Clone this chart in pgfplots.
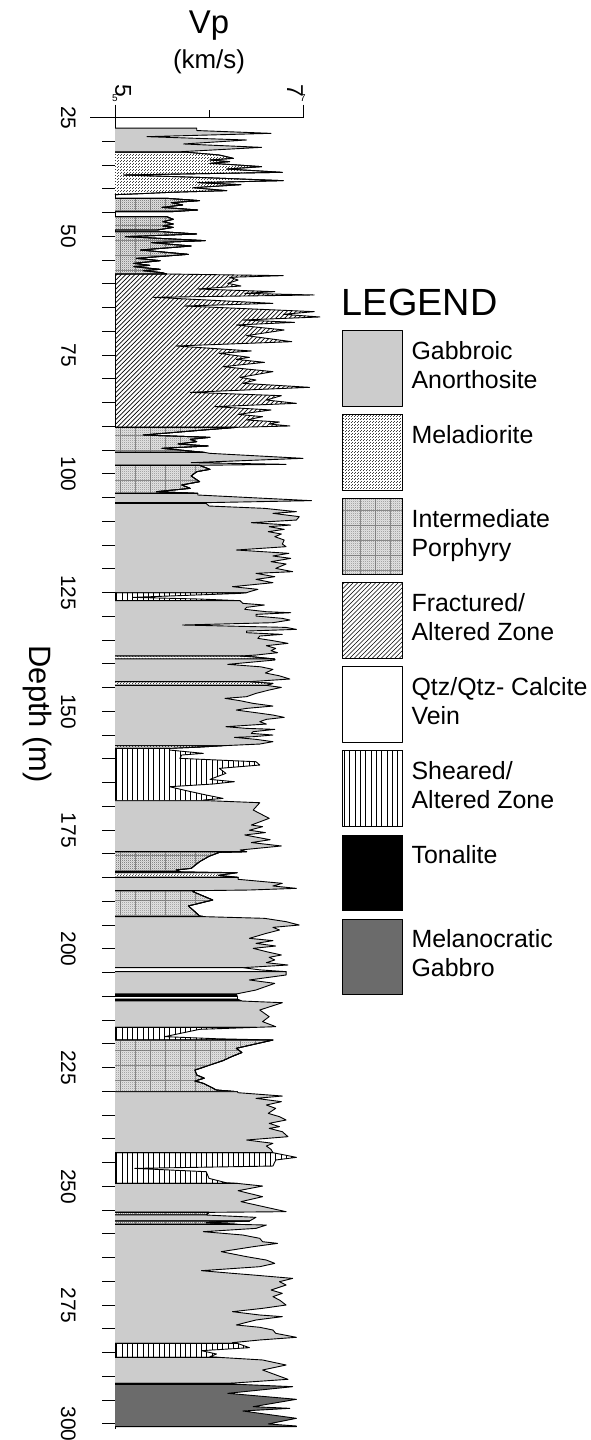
\documentclass[border=0pt]{standalone}
\usepackage{fontspec}
\setmainfont{Liberation Sans}
\usepackage{pgfplots}
\pgfplotsset{compat=1.18}
\usetikzlibrary{patterns}

\pgfdeclarepatternformonly{fracl}{\pgfqpoint{-1bp}{-1bp}}{\pgfqpoint{5.5bp}{5.5bp}}{\pgfqpoint{4.5bp}{4.5bp}}{%
  \pgfsetlinewidth{0.7bp}\pgfpathmoveto{\pgfqpoint{0bp}{0bp}}\pgfpathlineto{\pgfqpoint{4.6bp}{4.6bp}}\pgfusepath{stroke}}
\pgfdeclarepatternformonly{vlines}{\pgfqpoint{-1bp}{-1bp}}{\pgfqpoint{6.3bp}{6.3bp}}{\pgfqpoint{5.3bp}{5.3bp}}{%
  \pgfsetlinewidth{0.8bp}\pgfpathmoveto{\pgfqpoint{0bp}{0bp}}\pgfpathlineto{\pgfqpoint{0bp}{5.4bp}}\pgfusepath{stroke}}
\pgfdeclarepatternformonly{pgrid}{\pgfqpoint{-1bp}{-1bp}}{\pgfqpoint{16bp}{16bp}}{\pgfqpoint{15bp}{15bp}}{%
  \pgfsetlinewidth{0.5bp}\pgfpathmoveto{\pgfqpoint{0bp}{0bp}}\pgfpathlineto{\pgfqpoint{15.1bp}{0bp}}%
  \pgfpathmoveto{\pgfqpoint{0bp}{0bp}}\pgfpathlineto{\pgfqpoint{0bp}{15.1bp}}\pgfusepath{stroke}}
\pgfdeclarepatternformonly{mdots}{\pgfqpoint{0bp}{0bp}}{\pgfqpoint{3bp}{3bp}}{\pgfqpoint{3bp}{3bp}}{%
  \pgfpathrectangle{\pgfqpoint{0bp}{0bp}}{\pgfqpoint{1bp}{1bp}}%
  \pgfpathrectangle{\pgfqpoint{1.5bp}{1.5bp}}{\pgfqpoint{1bp}{1bp}}\pgfusepath{fill}}
\pgfdeclarepatternformonly{pdots}{\pgfqpoint{0bp}{0bp}}{\pgfqpoint{2.2bp}{2.2bp}}{\pgfqpoint{2.2bp}{2.2bp}}{%
  \pgfpathrectangle{\pgfqpoint{0bp}{0bp}}{\pgfqpoint{1bp}{1bp}}%
  \pgfpathrectangle{\pgfqpoint{1.1bp}{1.1bp}}{\pgfqpoint{0.9bp}{0.9bp}}\pgfusepath{fill}}

\pgfplotsset{
  litho/.style={draw=black, line width=0.9bp, line join=round},
  gab/.style={litho, fill=black!20},
  mel/.style={litho, preaction={fill=white}, pattern=mdots, pattern color=black!75},
  por/.style={litho, preaction={fill=black!10}, preaction={pattern=pgrid, pattern color=black!45}, pattern=pdots, pattern color=black!60},
  fra/.style={litho, pattern=fracl, pattern color=black},
  qtz/.style={litho, fill=white},
  she/.style={litho, pattern=vlines, pattern color=black},
  ton/.style={litho, fill=black},
  mgb/.style={litho, fill=black!58},
}

\begin{document}
\begin{tikzpicture}
\useasboundingbox (0,0) rectangle (591bp,1440bp);
\begin{axis}[
  at={(115bp,11.3bp)}, anchor=south west,
  scale only axis, width=188bp, height=1311bp,
  xmin=5, xmax=7, ymin=25, ymax=301, y dir=reverse,
  axis x line*=top, axis y line*=left,
  axis line style={line width=1bp, black},
  clip=false,
  xtick={5,7}, xticklabel={}, minor xtick={6},
  ytick={25,30,...,300},
  yticklabels={25,,,,,50,,,,,75,,,,,100,,,,,125,,,,,150,,,,,175,,,,,200,,,,,225,,,,,250,,,,,275,,,,,300},
  tick align=outside, major tick length=13bp, minor tick length=7.7bp,
  tick style={line width=1bp, black},
  /pgf/number format/assume math mode=true,
  yticklabel style={rotate=-90, anchor=north, inner sep=0pt, font=\fontsize{21}{25}\selectfont},
  yticklabel shift=26bp,
  ylabel={Depth (m)},
  ylabel style={at={(axis description cs:-0.41,0.545)}, anchor=center, rotate=180, inner sep=0pt, font=\fontsize{31}{36}\selectfont},
  legend image code/.code={\draw[#1] (0bp,-41.9bp) rectangle (60.6bp,33.8bp);},
  legend cell align=left,
  legend style={draw=none, fill=none, inner sep=0pt, outer sep=0pt,
    at={(axis description cs:1.2059,0.8381)}, anchor=north west,
    row sep=7.5bp, column sep=8.4bp, font=\fontsize{25}{29.3}\selectfont,
    cells={align=left}, nodes={inner sep=0pt}},
]
\addplot[gab, forget plot] coordinates {(5,27.2) (5.87,27.2) (5.87,27.7) (6.66,28.29) (5.34,28.99) (6.40,29.69) (5.73,30.53) (6.56,31.24) (5.71,32.15) (5.75,32.25) (5,32.25)};
\addplot[mel, forget plot] coordinates {(5,32.25) (5.75,32.25) (6.11,32.85) (6.26,33.55) (6.01,33.9) (6.22,34.25) (6.01,34.6) (6.19,34.8) (6.56,35.3) (6.19,35.8) (6.78,36.5) (5.09,37.06) (5.87,37.55) (6.79,38.25) (5.88,38.67) (6.34,39.1) (5.83,39.73) (6.19,40.36) (5.6,40.7) (5.15,41.1) (5,41.2)};
\addplot[por, forget plot] coordinates {(5,41.97) (5.55,41.97) (5.90,42.46) (5.6,42.88) (5.72,43.37) (5.5,43.87) (5.88,44.43) (5.6,44.78) (5,44.78)};
\addplot[por, forget plot] coordinates {(5,45.83) (5.55,45.83) (5.62,46.39) (5.51,46.88) (5.62,47.38) (5.51,47.8) (5.62,48.08) (5.45,48.64) (5,48.64)};
\addplot[por, forget plot] coordinates {(5,49.0) (5.5,49.0) (5.87,49.48) (5.11,50.04) (5.96,50.88) (5.39,51.3) (5.81,52.01) (5.27,52.85) (5.78,53.76) (5.23,54.6) (5.48,55.1) (5.2,55.66) (5.37,56.08) (5.2,56.36) (5.48,56.92) (5.3,57.2) (5.5,57.62) (5.55,57.9) (5,57.9)};
\addplot[fra, forget plot] coordinates {(5,57.9) (5.55,57.9) (6.79,58.25) (6.22,58.6) (6.31,59.17) (6.2,59.87) (6.34,60.43) (5.88,61.06) (6.70,61.62) (6.38,61.97) (7.12,62.32) (5.41,62.81) (6.68,64.08) (5.74,64.64) (7.12,65.83) (6.79,66.39) (7.18,66.95) (6.36,67.59) (6.91,68.08) (6.29,68.64) (6.80,69.69) (6.40,70.88) (6.88,72.15) (5.65,73.06) (6.45,74.11) (6.11,74.6) (6.43,75.45) (6.29,75.87) (6.59,76.5) (6.15,77.41) (6.68,78.46) (6.33,79.66) (6.50,80.22) (6.36,80.92) (7.07,81.76) (5.80,82.81) (6.77,83.52) (6.61,84.43) (6.93,85.13) (6.06,85.83) (6.66,86.53) (6.31,87.45) (6.57,87.94) (6.40,88.64) (6.75,89.06) (6.64,89.48) (6.86,89.9) (6.3,90.18) (5,90.18)};
\addplot[por, forget plot] coordinates {(5,90.18) (6.3,90.18) (5.94,90.75) (5.30,91.8) (6.01,92.29) (5.80,92.71) (5.87,93.2) (5.67,93.69) (5.99,94.11) (5.5,94.6) (5.87,95.31) (5.95,95.45) (5,95.45)};
\addplot[gab, forget plot] coordinates {(5,95.45) (5.95,95.45) (6.01,95.66) (7.0,96.71) (5.81,97.62) (6.82,97.97) (5.9,98.18) (5,98.18)};
\addplot[por, forget plot] coordinates {(5,98.18) (5.9,98.18) (6.01,99.03) (5.87,99.52) (5.81,100.43) (5.9,101.62) (5.71,102.32) (5.8,103.03) (5.44,103.73) (5.88,104.08) (5,104.08)};
\addplot[gab, forget plot] coordinates {(5,104.08) (5.88,104.08) (5.88,104.43) (7.09,105.62) (5.97,106.04) (5,106.04)};
\addplot[ton, forget plot] coordinates {(5,106.04) (5.97,106.04) (5.97,106.2) (5,106.2)};
\addplot[gab, forget plot] coordinates {(5,106.2) (5.97,106.2) (6.0,106.75) (6.59,107.24) (6.93,107.94) (6.68,108.29) (6.96,108.99) (6.93,109.7) (6.45,110.26) (6.87,110.75) (6.64,111.1) (6.80,111.66) (6.63,112.15) (6.77,112.64) (6.70,113.2) (6.80,113.91) (6.78,114.75) (6.82,115.31) (6.29,116.01) (6.85,116.71) (6.68,117.27) (6.87,117.77) (6.66,118.47) (6.82,118.96) (6.71,119.87) (6.89,120.57) (6.50,120.92) (6.70,121.63) (6.50,122.19) (6.68,122.89) (6.25,123.73) (6.52,124.29) (6.43,124.79) (6.40,125.0) (5,125.0)};
\addplot[she, forget plot] coordinates {(5,125.0) (6.40,125.0) (6.33,125.14) (5.19,125.98) (5.90,126.33) (6.33,126.68) (5,126.68)};
\addplot[gab, forget plot] coordinates {(5,126.68) (6.33,126.68) (6.36,127.24) (6.59,127.59) (6.40,128.08) (6.38,128.5) (6.61,129.0) (6.87,129.21) (6.50,129.56) (6.50,129.91) (6.78,130.4) (6.86,130.75) (6.68,131.31) (5.72,131.8) (6.82,132.3) (6.93,132.72) (6.40,133.07) (6.40,133.42) (6.78,133.77) (6.54,134.12) (6.52,134.61) (6.68,135.1) (6.84,135.66) (6.61,136.15) (6.71,136.72) (6.66,137.21) (6.73,137.63) (6.5,138.12) (6.33,138.33) (5,138.33)};
\addplot[mel, forget plot] coordinates {(5,138.33) (6.33,138.33) (6.47,138.5) (6.70,138.96) (5,138.96)};
\addplot[gab, forget plot] coordinates {(5,138.96) (6.70,138.96) (6.70,139.17) (6.20,140.08) (6.55,140.6) (6.68,141.14) (6.6,141.9) (6.75,142.5) (6.86,143.17) (6.43,143.73) (5,143.73)};
\addplot[mel, forget plot] coordinates {(5,143.73) (6.43,143.73) (6.68,144.1) (6.61,144.51) (5,144.51)};
\addplot[gab, forget plot] coordinates {(5,144.51) (6.61,144.51) (6.77,144.93) (6.64,145.49) (6.50,146.19) (6.40,146.89) (6.17,147.24) (6.33,147.73) (6.47,148.3) (6.68,148.86) (6.40,149.35) (6.29,149.7) (6.50,150.26) (6.68,150.75) (6.80,151.24) (6.61,151.66) (6.54,152.15) (6.61,152.65) (6.18,153.21) (6.40,153.56) (6.70,153.77) (6.47,154.26) (6.45,154.61) (6.68,154.96) (6.47,155.31) (6.27,155.45) (6.50,155.87) (6.68,156.36) (6.54,156.86) (6.15,157.21) (5,157.21)};
\addplot[mel, forget plot] coordinates {(5,157.21) (6.15,157.21) (5.9,157.5) (5.58,157.77) (5,157.77)};
\addplot[she, forget plot] coordinates {(5,157.77) (5.58,157.77) (5.58,158.12) (5.94,158.82) (5.71,159.17) (5.69,159.87) (6.50,160.58) (6.54,161.28) (6.11,161.98) (6.18,163.03) (6.01,164.3) (6.27,164.79) (6.04,165.28) (5.58,165.84) (5.76,166.68) (5.97,167.59) (6.15,168.3) (5.94,168.65) (6.0,168.79) (5,168.79)};
\addplot[gab, forget plot] coordinates {(5,168.79) (6.0,168.79) (6.54,169.21) (6.47,170.75) (6.64,172.5) (6.45,173.91) (6.57,174.25) (6.43,175.0) (6.6,175.5) (6.38,176.0) (6.65,177.0) (6.45,177.6) (6.77,178.32) (6.33,179.17) (6.40,179.52) (5,179.52)};
\addplot[por, forget plot] coordinates {(5,179.52) (6.40,179.52) (6.11,179.66) (6.0,180.5) (5.9,181.62) (5.81,183.03) (5.65,183.38) (5.69,183.73) (5,183.73)};
\addplot[ton, forget plot] coordinates {(5,183.73) (5.69,183.73) (6.3,183.95) (5,183.95)};
\addplot[mel, forget plot] coordinates {(5,183.95) (6.3,183.95) (6.1,184.5) (6.31,184.92) (5,184.92)};
\addplot[gab, forget plot] coordinates {(5,184.92) (6.31,184.92) (6.31,185.34) (6.78,186.18) (6.68,186.74) (6.93,187.24) (6.43,187.59) (5.85,187.73) (5,187.73)};
\addplot[por, forget plot] coordinates {(5,187.73) (5.85,187.73) (5.83,187.94) (6.04,189.69) (5.78,190.95) (5.83,191.8) (5.9,193.06) (5.95,193.2) (5,193.2)};
\addplot[gab, forget plot] coordinates {(5,193.2) (5.95,193.2) (6.59,193.55) (6.82,194.25) (6.96,194.96) (6.68,195.45) (6.75,196.01) (6.61,196.71) (6.43,197.76) (6.68,198.25) (6.50,198.82) (6.71,199.38) (6.47,199.87) (6.61,200.57) (6.77,201.27) (6.64,201.76) (6.70,202.32) (6.61,202.89) (6.84,203.38) (6.36,203.94) (5,203.94)};
\addplot[qtz, forget plot] coordinates {(5,203.94) (6.36,203.94) (6.54,204.4) (6.82,204.78) (5,204.78)};
\addplot[gab, forget plot] coordinates {(5,204.78) (6.82,204.78) (6.82,205.48) (6.43,206.53) (6.70,207.24) (6.50,208.64) (6.29,209.48) (5,209.48)};
\addplot[ton, forget plot] coordinates {(5,209.48) (6.29,209.48) (6.3,209.9) (5,209.9)};
\addplot[qtz, forget plot] coordinates {(5,209.9) (6.3,209.9) (6.3,210.53) (5,210.53)};
\addplot[ton, forget plot] coordinates {(5,210.53) (6.3,210.53) (6.35,210.96) (5,210.96)};
\addplot[gab, forget plot] coordinates {(5,210.96) (6.35,210.96) (6.78,211.31) (6.54,212.85) (6.64,214.25) (6.57,215.3) (6.71,216.36) (6.5,216.5) (5,216.5)};
\addplot[she, forget plot] coordinates {(5,216.5) (6.5,216.5) (5.9,216.92) (5.53,218.46) (6.08,218.9) (6.68,219.17) (5,219.17)};
\addplot[por, forget plot] coordinates {(5,219.17) (6.68,219.17) (6.29,220.92) (6.35,221.8) (6.24,222.67) (6.15,223.5) (6.0,224.5) (5.85,225.5) (5.87,226.54) (5.95,227.2) (5.85,227.8) (5.94,228.29) (6.08,229.7) (6.3,230.05) (5,230.05)};
\addplot[gab, forget plot] coordinates {(5,230.05) (6.3,230.05) (6.31,230.26) (6.78,230.96) (6.50,231.45) (6.77,232.15) (6.61,232.85) (6.71,233.56) (6.63,234.61) (6.75,235.31) (6.82,236.01) (6.64,236.71) (6.75,237.42) (6.64,237.77) (6.78,238.47) (6.84,239.52) (6.40,240.22) (6.68,240.92) (6.61,241.49) (6.66,242.19) (6.68,242.89) (5,242.89)};
\addplot[she, forget plot] coordinates {(5,242.89) (6.68,242.89) (6.93,243.87) (6.71,244.43) (6.68,245.7) (5.21,246.19) (5.97,246.89) (6.0,248.29) (6.18,249.2) (6.3,249.35) (5,249.35)};
\addplot[gab, forget plot] coordinates {(5,249.35) (6.3,249.35) (6.57,249.91) (6.31,250.89) (6.57,252.15) (6.34,253.2) (6.82,255.31) (6.0,255.45) (5,255.45)};
\addplot[por, forget plot] coordinates {(5,255.45) (6.0,255.45) (5.97,256.01) (5,256.01)};
\addplot[gab, forget plot] coordinates {(5,256.01) (5.97,256.01) (6.5,256.5) (6.43,257.28) (5,257.28)};
\addplot[por, forget plot] coordinates {(5,257.28) (6.43,257.28) (5.97,257.6) (6.3,257.98) (5,257.98)};
\addplot[gab, forget plot] coordinates {(5,257.98) (6.3,257.98) (6.61,258.12) (6.50,258.82) (5.94,259.52) (6.36,260.22) (6.54,260.92) (6.57,261.63) (6.73,261.98) (6.47,262.68) (6.13,263.73) (6.40,264.78) (6.61,265.49) (6.70,266.19) (6.54,266.89) (5.92,267.73) (6.25,268.29) (6.47,268.64) (6.89,269.35) (6.75,270.05) (6.82,270.75) (6.66,271.8) (6.78,272.5) (6.68,273.2) (6.75,273.91) (6.82,274.96) (6.57,275.66) (6.25,276.36) (6.54,277.06) (6.78,277.41) (6.50,278.11) (6.29,279.16) (6.54,279.65) (6.68,280.22) (6.71,280.92) (6.93,281.76) (6.54,282.32) (6.25,282.88) (6.3,283.02) (5,283.02)};
\addplot[she, forget plot] coordinates {(5,283.02) (6.3,283.02) (6.43,283.94) (5.92,284.57) (6.08,285.27) (6.01,285.83) (6.1,285.97) (5,285.97)};
\addplot[gab, forget plot] coordinates {(5,285.97) (6.1,285.97) (6.57,286.53) (6.82,287.59) (6.57,288.64) (6.84,290.6) (6.22,291.44) (6.25,291.45) (5,291.45)};
\addplot[ton, forget plot] coordinates {(5,291.45) (6.25,291.45) (6.3,291.65) (5,291.65)};
\addplot[mgb, forget plot] coordinates {(5,291.65) (6.3,291.65) (6.89,292.15) (6.2,293.55) (6.93,294.81) (6.47,296.36) (6.86,296.71) (6.36,297.27) (6.93,298.81) (6.63,300.0) (6.93,300.43) (6.93,300.57) (5,300.57)};

\draw[line width=1bp] ([xshift=-25bp]axis cs:5,25) -- (axis cs:5,25);
\node[rotate=-90, anchor=south east, inner sep=0pt, font=\fontsize{23}{27}\selectfont] at ([yshift=20.7bp]axis cs:5,25) {5};
\node[rotate=-90, anchor=north east, inner sep=0pt, font=\fontsize{23}{27}\selectfont] at ([yshift=20.7bp]axis cs:7,25) {7};
\node[anchor=base, inner sep=0pt, font=\fontsize{33}{38}\selectfont] at (axis description cs:0.5,1.0644) {Vp};
\node[anchor=base, inner sep=0pt, font=\fontsize{26}{30}\selectfont] at (axis description cs:0.5,1.0377) {(km/s)};
\node[anchor=base west, inner sep=0pt, font=\fontsize{38}{44}\selectfont] at (axis description cs:1.2059,0.8495) {LEGEND};

\addlegendimage{gab}
\addlegendentry{\strut Gabbroic\\Anorthosite\strut}
\addlegendimage{mel}
\addlegendentry{\strut Meladiorite\\\strut}
\addlegendimage{por}
\addlegendentry{\strut Intermediate\\Porphyry\strut}
\addlegendimage{fra}
\addlegendentry{\strut Fractured/\\Altered Zone\strut}
\addlegendimage{qtz}
\addlegendentry{\strut Qtz/Qtz- Calcite\\Vein\strut}
\addlegendimage{she}
\addlegendentry{\strut Sheared/\\Altered Zone\strut}
\addlegendimage{ton}
\addlegendentry{\strut Tonalite\\\strut}
\addlegendimage{mgb}
\addlegendentry{\strut Melanocratic\\Gabbro\strut}
\end{axis}
\end{tikzpicture}
\end{document}
